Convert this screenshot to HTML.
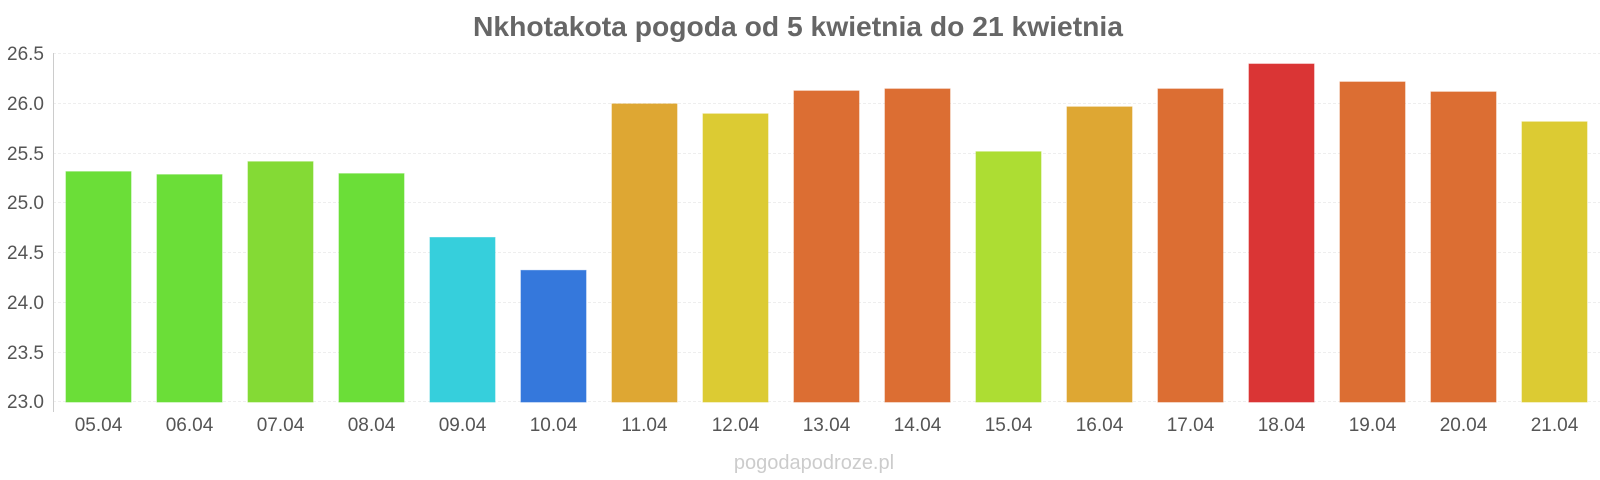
<!DOCTYPE html>
<html><head><meta charset="utf-8"><style>body{margin:0;background:#fff}svg{display:block}</style></head><body>
<svg width="1600" height="480" xmlns="http://www.w3.org/2000/svg" font-family="Liberation Sans, sans-serif">
<text x="798" y="36" text-anchor="middle" font-size="28" font-weight="bold" fill="#666" textLength="650" lengthAdjust="spacingAndGlyphs">Nkhotakota pogoda od 5 kwietnia do 21 kwietnia</text>
<g stroke="#eee" stroke-dasharray="3,2" stroke-width="1">
<line x1="53" x2="1600" y1="53.5" y2="53.5"/><line x1="53" x2="1600" y1="103.5" y2="103.5"/><line x1="53" x2="1600" y1="153.5" y2="153.5"/><line x1="53" x2="1600" y1="202.5" y2="202.5"/><line x1="53" x2="1600" y1="252.5" y2="252.5"/><line x1="53" x2="1600" y1="302.5" y2="302.5"/><line x1="53" x2="1600" y1="352.5" y2="352.5"/><line x1="53" x2="1600" y1="401.5" y2="401.5"/>
</g>
<line x1="53.5" x2="53.5" y1="53" y2="412" stroke="#ccc"/>
<g font-size="19" fill="#555" text-anchor="end">
<text x="44" y="60">26.5</text><text x="44" y="110">26.0</text><text x="44" y="160">25.5</text><text x="44" y="209">25.0</text><text x="44" y="259">24.5</text><text x="44" y="309">24.0</text><text x="44" y="359">23.5</text><text x="44" y="408">23.0</text>
</g>
<g id="bars" stroke-width="1"></g>
<g id="labels" font-size="19" fill="#555" text-anchor="middle"></g>
<text x="814" y="469" text-anchor="middle" font-size="20" fill="#ccc">pogodapodroze.pl</text>
<script>
var v=[25.31,25.28,25.41,25.29,24.65,24.32,25.99,25.89,26.12,26.14,25.51,25.96,26.14,26.39,26.21,26.11,25.81];
var c=["#6bde38","#6bde38","#84da35","#6bde38","#36cfdc","#3578dc","#dea733","#dccb33","#dc6e33","#dc6e33","#addd33","#dea733","#dc6e33","#da3535","#dc6e33","#dc6e33","#dccb33"];
var b=document.getElementById('bars'),l=document.getElementById('labels'),ns="http://www.w3.org/2000/svg";
for(var i=0;i<17;i++){var cx=53+91*(i+0.5);var y=402-(v[i]-23)*99.7;
var r=document.createElementNS(ns,'rect');r.setAttribute('x',cx-32.5);r.setAttribute('y',y);r.setAttribute('width',65);r.setAttribute('height',402-y);r.setAttribute('fill',c[i]);r.setAttribute('stroke',c[i]);r.setAttribute('stroke-opacity','0.6');b.appendChild(r);
var t=document.createElementNS(ns,'text');t.setAttribute('x',cx);t.setAttribute('y',431);var d=5+i;t.textContent=(d<10?'0':'')+d+'.04';l.appendChild(t);}
</script>
</svg>
</body></html>
